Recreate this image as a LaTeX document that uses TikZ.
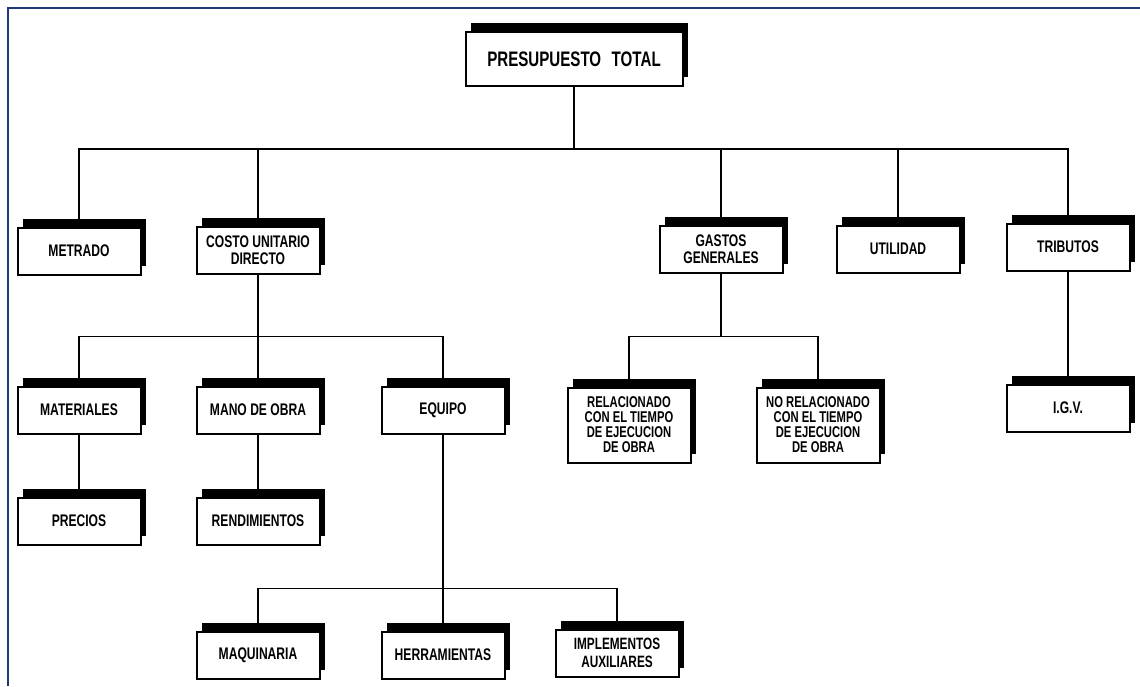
\documentclass[tikz,border=0pt]{standalone}
\usepackage{fontspec}
\setmainfont{Liberation Sans}[FakeStretch=0.72]
\usetikzlibrary{shadows}
\definecolor{framebl}{RGB}{31,56,120}

\begin{document}
\begin{tikzpicture}[x=0.5pt,y=-0.5pt,
  box/.style={draw, line width=1pt, fill=white, align=center, inner sep=1pt,
    font=\bfseries\fontsize{8.4}{8.4}\selectfont,
    minimum width=61.5pt, minimum height=23.5pt,
    general shadow={fill=black, shadow xshift=2.5pt, shadow yshift=4.5pt}},
  bigbox/.style={box, font=\bfseries\fontsize{10.5}{12}\selectfont,
    minimum width=108.5pt, minimum height=27pt},
  tallbox/.style={box, font=\bfseries\fontsize{7.8}{7.5}\selectfont,
    minimum height=37.5pt},
  link/.style={line width=0.7pt}]
\useasboundingbox (0,0) rectangle (1140,686);
\draw [framebl, line width=1.3pt] (8,686) -- (8,8) -- (1140,8);

\node [bigbox] (tot) at (574,59) {PRESUPUESTO\enspace TOTAL};

\node [box] (met) at (79,251) {METRADO};
\node [box] (cud) at (258,250) {COSTO UNITARIO\\DIRECTO};
\node [box] (gg) at (721,249) {GASTOS\\GENERALES};
\node [box] (uti) at (898,249) {UTILIDAD};
\node [box] (tri) at (1068,247) {TRIBUTOS};

\node [box] (mat) at (79,410) {MATERIALES};
\node [box] (mo) at (258,410) {MANO DE OBRA};
\node [box] (equ) at (443,410) {EQUIPO};
\node [box] (pre) at (79,521) {PRECIOS};
\node [box] (ren) at (258,521) {RENDIMIENTOS};

\node [tallbox] (rel) at (629,425) {RELACIONADO\\CON EL TIEMPO\\DE EJECUCION\\DE OBRA};
\node [tallbox] (nrel) at (818,425) {NO RELACIONADO\\CON EL TIEMPO\\DE EJECUCION\\DE OBRA};
\node [box] (igv) at (1068,408) {I.G.V.};

\node [box] (maq) at (258,655) {MAQUINARIA};
\node [box] (her) at (443,655) {HERRAMIENTAS};
\node [box, font=\bfseries\fontsize{8.2}{9}\selectfont] (imp) at (617,653) {IMPLEMENTOS\\AUXILIARES};

\foreach \c in {met,cud,gg,uti,tri}
  \draw [link] (tot.south) -- ++(0,62) -| (\c.north);
\foreach \c in {mat,mo,equ}
  \draw [link] (cud.south) -- ++(0,62) -| (\c.north);
\foreach \c in {rel,nrel}
  \draw [link] (gg.south) -- ++(0,63) -| (\c.north);
\foreach \c in {maq,her,imp}
  \draw [link] (equ.south) -- ++(0,154) -| (\c.north);
\draw [link] (mat.south) -- (pre.north);
\draw [link] (mo.south) -- (ren.north);
\draw [link] (tri.south) -- (igv.north);
\end{tikzpicture}
\end{document}
